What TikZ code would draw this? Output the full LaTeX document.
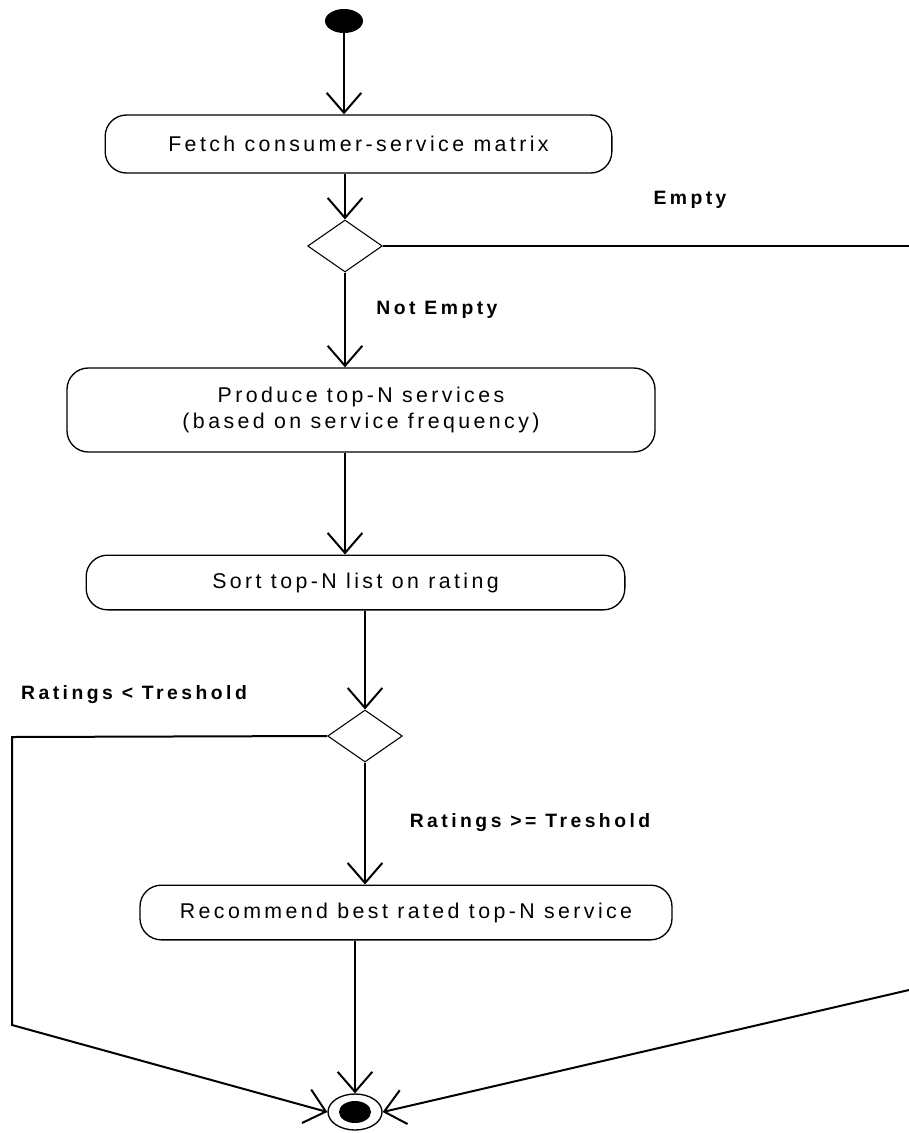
\documentclass[tikz,border=0pt]{standalone}
\usepackage{fontspec}
\usepackage{tikz}
\usetikzlibrary{shapes.geometric, arrows.meta}

\newfontfamily\boxfont[LetterSpace=16]{Liberation Sans}
\newfontfamily\labfont[LetterSpace=18]{Liberation Sans}

\tikzset{
    act/.style = {draw, line width = 1pt, rounded corners = 16pt, align = center,
                  inner sep = 0pt, font = \boxfont\fontsize{16}{19}\selectfont},
    choice/.style = {draw, diamond, line width = 0.8pt, inner sep = 0pt,
                     minimum width = 56pt, minimum height = 39pt},
    flow/.style = {line width = 1.5pt, -{Straight Barb[length = 15pt, width = 26pt]}},
    link/.style = {line width = 1.5pt},
    guard/.style = {font = \labfont\bfseries\fontsize{14.5}{16}\selectfont}
}

\begin{document}
\begin{tikzpicture}[x = 0.75pt, y = -0.75pt]
        \useasboundingbox (0,0) rectangle (909,1133);
        
        % start and end
        \node [ellipse, fill = black, minimum width = 28.5pt, minimum height = 18pt] (start) at (344,21) {};
        \node [ellipse, draw, line width = 1pt, minimum width = 40.5pt, minimum height = 27pt] (final) at (355,1112) {};
        \fill (final.center) ellipse [x radius = 16, y radius = 11];
        
        % actions
        \node [act, minimum width = 380pt, minimum height = 43.5pt] (fetch) at (358.5,144) {Fetch consumer-service matrix};
        \node [act, minimum width = 441pt, minimum height = 63pt] (produce) at (361,410) {Produce top-N services\\(based on service frequency)};
        \node [act, minimum width = 404pt, minimum height = 41pt] (sort) at (355.5,582.5) {Sort top-N list on rating};
        \node [act, minimum width = 399pt, minimum height = 41pt] (recommend) at (406,912.5) {Recommend best rated top-N service};
        
        % decisions
        \node [choice] (empty) at (345,246) {};
        \node [choice] (rating) at (365,736) {};
        
        % free ends
        \coordinate (emptyout) at (909,246);
        \coordinate (emptyin) at (909,990);
        \coordinate (lowtop) at (12,737);
        \coordinate (lowbottom) at (12,1025);
        
        \draw [flow] (start) -- (start |- fetch.north);
        \draw [flow] (empty |- fetch.south) -- (empty.north);
        \draw [flow] (empty.south) -- (empty |- produce.north);
        \draw [flow] (empty |- produce.south) -- (empty |- sort.north);
        \draw [flow] (rating |- sort.south) -- (rating.north);
        \draw [flow] (rating.south) -- (rating |- recommend.north);
        \draw [flow] (final |- recommend.south) -- (final.north);
        
        \draw [link] (empty.east) -- (emptyout);
        \draw [flow] (emptyin) -- (final.east);
        \draw [flow] (rating.west) -- (lowtop) -- (lowbottom) -- (final.west);
        
        % guards
        \node [guard] (lempty) at (690,200) {Empty};
        \node [guard] (lnotempty) at (437,310) {Not Empty};
        \node [guard] (llow) at (134,695) {Ratings < Treshold};
        \node [guard] (lhigh) at (530,823) {Ratings >= Treshold};
    \end{tikzpicture}
\end{document}
